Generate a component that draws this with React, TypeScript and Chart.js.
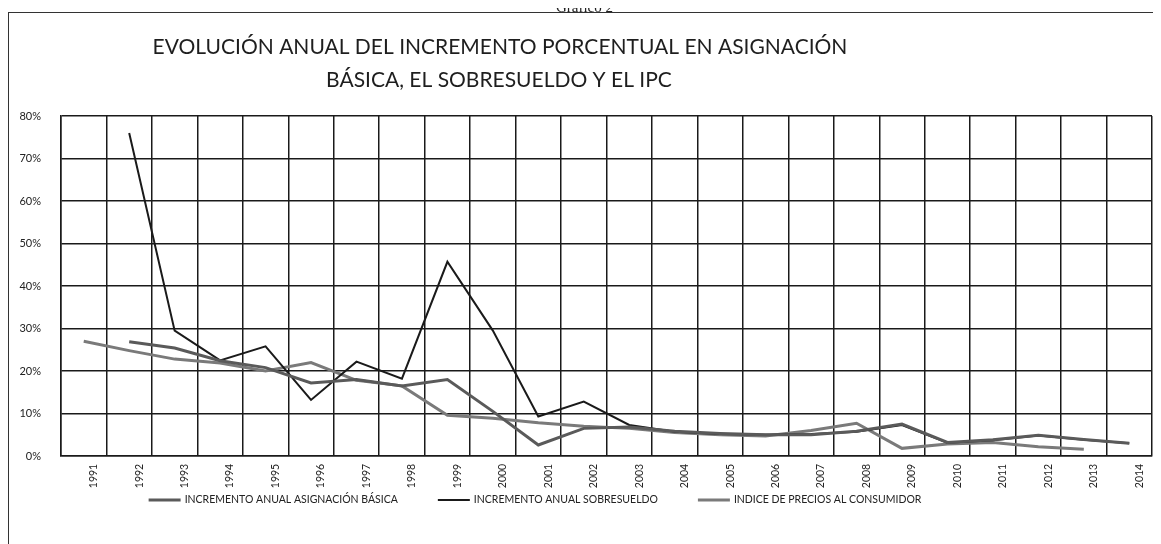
import React, { useEffect, useRef } from "react";
import { Chart, registerables } from "chart.js";

Chart.register(...registerables);

const years = [
  "1991", "1992", "1993", "1994", "1995", "1996", "1997", "1998", "1999", "2000", "2001", "2002",
  "2003", "2004", "2005", "2006", "2007", "2008", "2009", "2010", "2011", "2012", "2013", "2014",
];

// Percent values
const asignacionBasica = [
  null, 26.9, 25.4, 22.4, 20.8, 17.2, 18.0, 16.5, 18.0, 10.5, 2.6, 6.5,
  6.8, 5.8, 5.3, 5.0, 5.0, 5.8, 7.5, 3.2, 3.8, 4.9, 3.9, 3.0,
];
const sobresueldo = [
  null, 76.0, 29.5, 22.5, 25.8, 13.2, 22.2, 18.2, 45.7, 29.5, 9.3, 12.8,
  7.3, 5.7, 5.2, 5.0, 5.2, 5.7, 7.3, 3.1, 3.7, 4.8, 3.8, 3.0,
];
const ipc = [
  27.0, 24.8, 22.8, 21.9, 20.0, 22.0, 17.8, 16.5, 9.6, 8.9, 7.8, 7.0,
  6.5, 5.5, 5.0, 4.7, 6.0, 7.7, 1.8, 2.8, 3.2, 2.2, 1.6, null,
];

const seriesNames = [
  "INCREMENTO ANUAL ASIGNACIÓN BÁSICA",
  "INCREMENTO ANUAL SOBRESUELDO",
  "INDICE DE PRECIOS AL CONSUMIDOR",
];
const seriesColors = ["#5a5a5a", "#1a1a1a", "#7a7a7a"];
const seriesWidths = [3, 2, 3];

const titleLines = [
  "EVOLUCIÓN ANUAL DEL INCREMENTO PORCENTUAL EN ASIGNACIÓN",
  "BÁSICA, EL SOBRESUELDO Y EL IPC",
];
const captionText = "Gráfico 2";

const yMin = 0;
const yMax = 80;
const yStep = 10;

const FONT = "Lato, 'Open Sans', sans-serif";

const decorPlugin = {
  id: "decor",
  beforeDraw(chart: any) {
    const ctx = chart.ctx;
    ctx.save();
    ctx.fillStyle = "#ffffff";
    ctx.fillRect(0, 0, chart.width, chart.height);
    ctx.strokeStyle = "#333333";
    ctx.lineWidth = 1;
    ctx.strokeRect(0.5, 0.5, chart.width + 20, chart.height + 20);
    ctx.restore();
  },
  afterDraw(chart: any) {
    const ctx = chart.ctx;
    const area = chart.chartArea;
    const x = chart.scales.x;
    ctx.save();
    // title
    ctx.fillStyle = "#1e1e1e";
    ctx.font = `21px ${FONT}`;
    ctx.textAlign = "center";
    ctx.textBaseline = "middle";
    ctx.fillText(titleLines[0], 492, 35);
    ctx.fillText(titleLines[1], 491, 68);

    // rotated category labels
    ctx.font = `10.5px ${FONT}`;
    ctx.fillStyle = "#222222";
    years.forEach((label, i) => {
      const px = x.getPixelForValue(i) + 10;
      ctx.save();
      ctx.translate(px, area.bottom + 20);
      ctx.rotate(-Math.PI / 2);
      ctx.textAlign = "center";
      ctx.textBaseline = "middle";
      ctx.fillText(label, 0, 0);
      ctx.restore();
    });

    // legend
    ctx.font = `10.5px ${FONT}`;
    const sample = 32;
    const gap = 4;
    const spacing = 40;
    const widths = seriesNames.map((n) => ctx.measureText(n).width);
    const total =
      widths.reduce((a, w) => a + sample + gap + w, 0) + spacing * (seriesNames.length - 1);
    let lx = 527 - total / 2;
    const ly = 488;
    seriesNames.forEach((name, i) => {
      ctx.strokeStyle = seriesColors[i];
      ctx.lineWidth = seriesWidths[i];
      ctx.beginPath();
      ctx.moveTo(lx, ly);
      ctx.lineTo(lx + sample, ly);
      ctx.stroke();
      ctx.fillStyle = "#222222";
      ctx.textAlign = "left";
      ctx.textBaseline = "middle";
      ctx.fillText(name, lx + sample + gap, ly);
      lx += sample + gap + widths[i] + spacing;
    });
    ctx.restore();
  },
};

export default function App() {
  const canvasRef = useRef<HTMLCanvasElement | null>(null);

  useEffect(() => {
    const canvas = canvasRef.current;
    if (!canvas) return;
    const data = [asignacionBasica, sobresueldo, ipc];
    const chart = new Chart(canvas, {
      type: "line",
      data: {
        labels: years,
        datasets: seriesNames.map((name, i) => ({
          label: name,
          data: data[i],
          borderColor: seriesColors[i],
          backgroundColor: seriesColors[i],
          borderWidth: seriesWidths[i],
          pointRadius: 0,
          tension: 0,
          fill: false,
          spanGaps: false,
        })),
      },
      options: {
        responsive: false,
        animation: false,
        devicePixelRatio: 1,
        layout: { padding: { top: 104, left: 8, right: 16, bottom: 68 } },
        plugins: {
          legend: { display: false },
          title: { display: false },
          tooltip: { enabled: false },
        },
        scales: {
          x: {
            type: "category",
            offset: true,
            grid: { offset: true, color: "#1a1a1a", lineWidth: 1.5, drawTicks: false },
            border: { display: true, color: "#1a1a1a", width: 1.5 },
            ticks: { display: false },
            afterFit: (scale: any) => {
              scale.height = 28;
            },
          },
          y: {
            min: yMin,
            max: yMax,
            grid: { color: "#1a1a1a", lineWidth: 1.5, drawTicks: false },
            border: { display: true, color: "#1a1a1a", width: 1.5 },
            ticks: {
              stepSize: yStep,
              padding: 20,
              color: "#222222",
              font: { family: FONT, size: 11 },
              callback: (v: any) => `${v}%`,
            },
            afterFit: (scale: any) => {
              scale.width = 45;
            },
          },
        },
      },
      plugins: [decorPlugin],
    });
    return () => chart.destroy();
  }, []);

  return (
    <div style={{ position: "relative", width: 1153, height: 536 }}>
      <div
        style={{
          position: "absolute",
          top: -9,
          left: 0,
          width: 1153,
          textAlign: "center",
          fontSize: 15,
          lineHeight: "17px",
          fontFamily: "'Liberation Serif', serif",
          color: "#222",
          zIndex: 2,
        }}
      >
        {captionText}
      </div>
      <div style={{ position: "absolute", top: 4, left: 0, width: 1153, height: 532, overflow: "hidden" }}>
        <canvas ref={canvasRef} width={1160} height={540} style={{ display: "block" }} />
      </div>
    </div>
  );
}
